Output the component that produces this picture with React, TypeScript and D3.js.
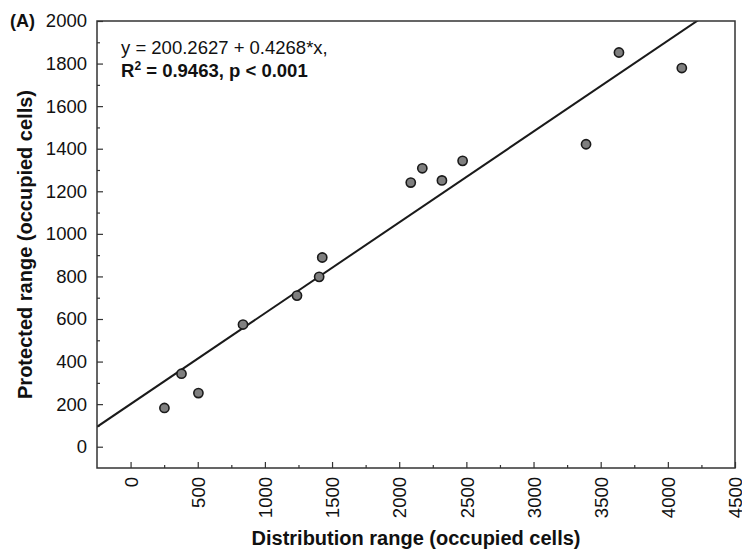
import { useEffect, useRef } from "react";
import { scaleLinear, axisBottom, axisLeft, select, line } from "d3";

// values
const distribution = [252, 379, 505, 837, 1239, 1404, 1427, 2086, 2172, 2318, 2472, 3391, 3636, 4104];
const protectedRange = [182, 343, 252, 574, 710, 798, 889, 1241, 1308, 1251, 1343, 1421, 1852, 1779];

const xMajor = [0, 500, 1000, 1500, 2000, 2500, 3000, 3500, 4000, 4500];
const xMinor = [250, 750, 1250, 1750, 2250, 2750, 3250, 3750, 4250];
const yMajor = [0, 200, 400, 600, 800, 1000, 1200, 1400, 1600, 1800, 2000];
const yMinor = [100, 300, 500, 700, 900, 1100, 1300, 1500, 1700, 1900];

const intercept = 200.2627;
const slope = 0.4268;

const width = 742;
const height = 558;
const margin = { top: 21, right: 7, bottom: 90, left: 97 };
const innerWidth = width - margin.left - margin.right;
const innerHeight = height - margin.top - margin.bottom;
const font = "'Liberation Sans', Arial, Helvetica, sans-serif";

const xScale = scaleLinear().domain([-250, 4500]).range([0, innerWidth]);
const yScale = scaleLinear().domain([-100, 2000]).range([innerHeight, 0]);

const XAxis = () => {
  const ref = useRef<SVGGElement>(null);
  useEffect(() => {
    const g = select(ref.current);
    g.append("g").call(
      axisBottom(xScale).tickValues(xMinor).tickSizeInner(-3).tickSizeOuter(0).tickFormat(() => "")
    );
    g.append("g").call(
      axisBottom(xScale).tickValues(xMajor).tickSizeInner(-6).tickSizeOuter(0).tickFormat((d) => String(d))
    );
    g.selectAll(".domain").remove();
    g.selectAll("line").attr("stroke", "#333").attr("stroke-width", 1.2);
    g.selectAll("text")
      .attr("transform", "rotate(-90)")
      .attr("text-anchor", "end")
      .attr("x", -9)
      .attr("y", 0)
      .attr("dy", "0.36em")
      .attr("fill", "#111")
      .style("font-family", font)
      .style("font-size", "18.5px");
  }, []);
  return <g ref={ref} transform={`translate(0,${innerHeight})`} />;
};

const YAxis = () => {
  const ref = useRef<SVGGElement>(null);
  useEffect(() => {
    const g = select(ref.current);
    g.append("g").call(
      axisLeft(yScale).tickValues(yMinor).tickSizeInner(-3).tickSizeOuter(0).tickFormat(() => "")
    );
    g.append("g").call(
      axisLeft(yScale).tickValues(yMajor).tickSizeInner(-6).tickSizeOuter(0).tickPadding(10).tickFormat((d) => String(d))
    );
    g.selectAll(".domain").remove();
    g.selectAll("line").attr("stroke", "#333").attr("stroke-width", 1.2);
    g.selectAll("text")
      .attr("fill", "#111")
      .style("font-family", font)
      .style("font-size", "18.5px");
  }, []);
  return <g ref={ref} />;
};

export default function App() {
  const points = distribution.map((x, i) => ({ x, y: protectedRange[i] }));
  const fit = xScale.domain().map((x) => ({ x, y: intercept + slope * x }));
  const fitLine = line<{ x: number; y: number }>()
    .x((d) => xScale(d.x))
    .y((d) => yScale(d.y));

  return (
    <svg
      width={width}
      height={height}
      style={{ position: "absolute", left: 0, top: 0, background: "#fff" }}
      fontFamily={font}
    >
      <defs>
        <clipPath id="plot-clip">
          <rect x={0} y={0} width={innerWidth} height={innerHeight} />
        </clipPath>
      </defs>
      <text x={10} y={27} fontSize={18} fontWeight="bold" fill="#111">
        (A)
      </text>
      <g transform={`translate(${margin.left},${margin.top})`}>
        <XAxis />
        <YAxis />
        <g clipPath="url(#plot-clip)">
          <path d={fitLine(fit) ?? ""} fill="none" stroke="#1a1a1a" strokeWidth={2} />
        </g>
        {points.map((d, i) => (
          <circle
            key={i}
            cx={xScale(d.x)}
            cy={yScale(d.y)}
            r={4.6}
            fill="#7f7f7f"
            stroke="#1a1a1a"
            strokeWidth={1.6}
          />
        ))}
        <rect
          x={0}
          y={0}
          width={innerWidth}
          height={innerHeight}
          fill="none"
          stroke="#333"
          strokeWidth={1.5}
        />
        <text x={24} y={33} fontSize={18.5} fill="#111">
          y = 200.2627 + 0.4268*x,
        </text>
        <text x={24} y={56} fontSize={18.5} fontWeight="bold" fill="#111">
          R<tspan dy={-7} fontSize={12}>2</tspan>
          <tspan dy={7}> = 0.9463, p &lt; 0.001</tspan>
        </text>
      </g>
      <text
        x={margin.left + innerWidth / 2}
        y={545}
        textAnchor="middle"
        fontSize={20}
        fontWeight="bold"
        fill="#111"
      >
        Distribution range (occupied cells)
      </text>
      <text
        transform={`translate(32,${margin.top + innerHeight / 2}) rotate(-90)`}
        textAnchor="middle"
        fontSize={20}
        fontWeight="bold"
        fill="#111"
      >
        Protected range (occupied cells)
      </text>
    </svg>
  );
}
